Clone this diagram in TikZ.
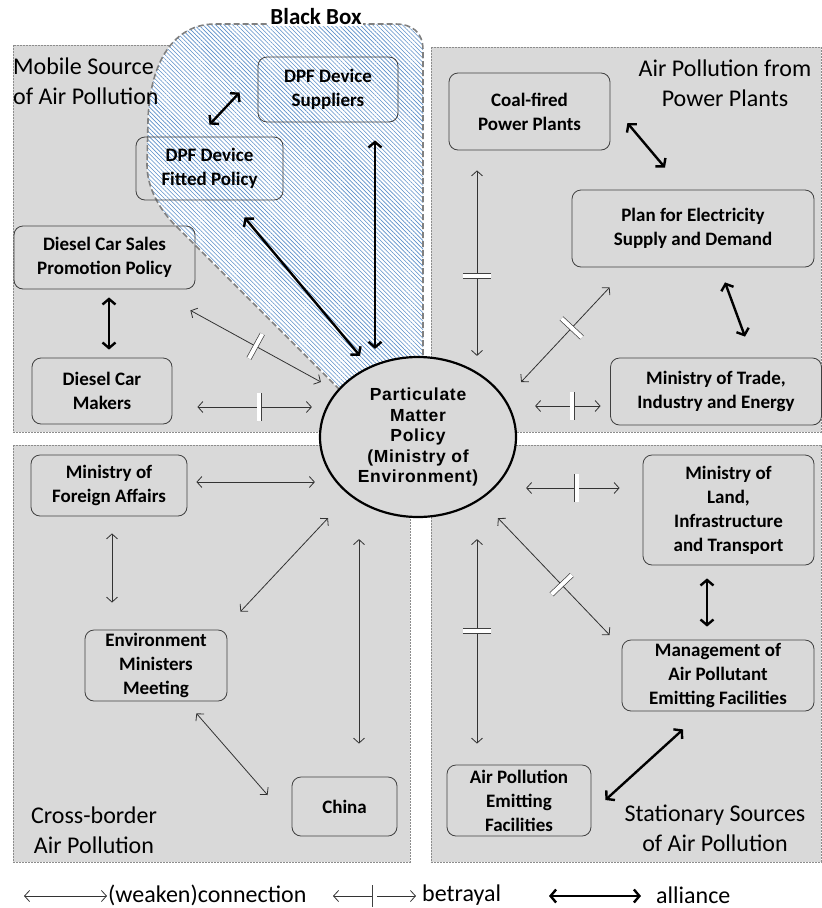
\documentclass[tikz,border=0pt]{standalone}
\usepackage{fontspec}
\setmainfont{Carlito}
\newfontfamily\arialfont[LetterSpace=4]{Liberation Sans}
\usetikzlibrary{arrows.meta,calc,shapes.geometric,patterns.meta,decorations.markings}
\definecolor{panelgray}{HTML}{D9D9D9}
\definecolor{hatchblue}{HTML}{5B8FC9}
\tikzset{
  panel/.style={fill=panelgray, draw=black!45, dash pattern=on 2pt off 1pt, line width=.6pt},
  actor/.style={draw=black!75, line width=.8pt, rounded corners=9pt, align=center, inner sep=2pt,
    font=\bfseries\fontsize{19}{24}\selectfont},
  region/.style={align=center, font=\fontsize{24}{30}\selectfont},
  legend/.style={inner sep=1pt, font=\fontsize{24}{28}\selectfont},
  conn/.style={black!80, line width=.8pt,
    {Straight Barb[length=5pt,width=11pt]}-{Straight Barb[length=5pt,width=11pt]}},
  ally/.style={black, line width=2.4pt,
    {Straight Barb[length=5.5pt,width=13pt]}-{Straight Barb[length=5.5pt,width=13pt]}},
  gaplen/.store in=\gaplen, gaplen=14pt,
  betray/.style={conn, postaction={decorate, decoration={markings,
    mark=at position #1 with {\draw[-, draw=black!75, line width=.7pt, double=white, double distance=4pt]
      (0pt,-\gaplen) -- (0pt,\gaplen);}}}},
  betray/.default=.5,
}
\begin{document}
\begin{tikzpicture}[x=1pt, y=-1pt]
  \useasboundingbox (0,0) rectangle (822,908);

  % four policy areas
  \fill[panel] (13,45) rectangle (421,432);
  \fill[panel] (431,47) rectangle (821,432);
  \fill[panel] (13,445) rectangle (410,862);
  \fill[panel] (431,445) rectangle (821,862);
  \draw[panel, fill=none] (13,45) rectangle (421,432);
  \draw[panel, fill=none] (431,47) rectangle (821,432);
  \draw[panel, fill=none] (13,445) rectangle (410,862);
  \draw[panel, fill=none] (431,445) rectangle (821,862);

  % black box
  \path[fill=white] (423,400) -- (423,50) .. controls (423,32) and (412,24) .. (395,24)
    -- (215,24) .. controls (175,24) and (150,60) .. (148,120) -- (147,165)
    .. controls (147,188) and (160,210) .. (175,225) -- (350,400) -- cycle;
  \draw[pattern={Lines[angle=-45, distance=3pt, line width=.6pt]}, pattern color=hatchblue,
    draw=black!50, line width=1.6pt, dash pattern=on 6pt off 3pt]
    (423,400) -- (423,50) .. controls (423,32) and (412,24) .. (395,24)
    -- (215,24) .. controls (175,24) and (150,60) .. (148,120) -- (147,165)
    .. controls (147,188) and (160,210) .. (175,225) -- (350,400) -- cycle;
  \node[font=\bfseries\fontsize{23}{26}\selectfont, fill=white, inner sep=1pt] (bblabel) at (316,17) {Black Box};

  % area titles
  \node[region, align=left, anchor=west, inner sep=0pt] (tmobile) at (13,81) {Mobile Source\\of Air Pollution};
  \node[region] (tpower) at (725,83) {Air Pollution from\\Power Plants};
  \node[region] (tcross) at (94,830) {Cross-border\\Air Pollution};
  \node[region] (tstat) at (715,828) {Stationary Sources\\of Air Pollution};

  % actors
  \node[actor, minimum width=140, minimum height=65] (dpfsup) at (328,89.5) {DPF Device\\Suppliers};
  \node[actor, minimum width=147, minimum height=63] (dpffit) at (209.5,168.5) {DPF Device\\Fitted Policy};
  \node[actor, minimum width=181, minimum height=63] (sales) at (104.5,257.5) {Diesel Car Sales\\Promotion Policy};
  \node[actor, minimum width=140, minimum height=66] (makers) at (102,391) {Diesel Car\\Makers};
  \node[actor, minimum width=161, minimum height=77] (coal) at (529.5,111.5) {Coal-fired\\Power Plants};
  \node[actor, minimum width=242, minimum height=77] (plan) at (693,228.5) {Plan for Electricity\\Supply and Demand};
  \node[actor, minimum width=211, minimum height=67] (trade) at (716,391.5) {Ministry of Trade,\\Industry and Energy};
  \node[actor, minimum width=156, minimum height=61] (fa) at (109,485.5) {Ministry of\\Foreign Affairs};
  \node[actor, minimum width=142, minimum height=71] (emm) at (156,665.5) {Environment\\Ministers\\Meeting};
  \node[actor, minimum width=105, minimum height=59] (china) at (344.5,806.5) {China};
  \node[actor, minimum width=171, minimum height=110] (land) at (728.5,510) {Ministry of\\Land,\\Infrastructure\\and Transport};
  \node[actor, minimum width=192, minimum height=71] (mgmt) at (718,675.5) {Management of\\Air Pollutant\\Emitting Facilities};
  \node[actor, minimum width=144, minimum height=71] (apef) at (519,800.5) {Air Pollution\\Emitting\\Facilities};

  % central policy
  \node[ellipse, draw=black, line width=2.2pt, fill=panelgray, minimum width=196, minimum height=160,
    inner sep=0pt, align=center, font=\arialfont\bfseries\fontsize{17.5}{20.5}\selectfont]
    (pm) at (418,437) {Particulate\\Matter\\Policy\\(Ministry of\\Environment)};

  % mobile sources
  \draw[ally] ($(dpfsup.west)+(-18,3)$) -- ($(dpffit.north)+(0,-12)$);
  \draw[ally] ($(dpffit.south)+(35,17)$) -- ($(pm.north)+(-58,0)$);
  \draw[ally] ($(dpfsup.south)+(47,18)$) -- ($(pm.north)+(-43,-7)$);
  \draw[ally] ($(sales.south)+(4.5,8)$) -- ($(makers.north)+(7,-8)$);
  \draw[betray] ($(sales.south east)+(-5,21)$) -- ($(pm.west)+(2,-55)$);
  \draw[betray=.54] ($(makers.east)+(25,16)$) -- ($(pm.west)+(-7,-30)$);

  % power plants
  \draw[betray=.57] ($(coal.south)+(-52.5,20)$) -- ($(pm.north)+(59,0)$);
  \draw[ally] ($(coal.east)+(17,11.5)$) -- ($(plan.north)+(-28,-22)$);
  \draw[betray=.43] ($(plan.south west)+(38,20)$) -- ($(pm.east)+(4,-55)$);
  \draw[ally] ($(plan.south)+(32,15)$) -- ($(trade.north)+(29,-21)$);
  \draw[betray=.57] ($(pm.east)+(18,-31)$) -- ($(trade.west)+(-9.5,14.5)$);

  % cross-border
  \draw[conn] ($(fa.east)+(9,-3.5)$) -- ($(pm.west)+(-4,45)$);
  \draw[conn] ($(fa.south)+(3,17)$) -- ($(emm.north)+(-44,-27)$);
  \draw[conn] ($(pm.south)+(-90,0)$) -- ($(emm.north east)+(13,-18)$);
  \draw[conn] ($(pm.south)+(-59,21)$) -- ($(china.north)+(14.5,-33)$);
  \draw[conn] ($(emm.south east)+(-31,12)$) -- ($(china.west)+(-24,-11.5)$);

  % stationary sources
  \draw[betray=.54] ($(pm.east)+(9,51)$) -- ($(land.west)+(-23,-22)$);
  \draw[betray=.57] ($(pm.south)+(80,0)$) -- ($(mgmt.west)+(-12,-40.5)$);
  \draw[betray=.45] ($(pm.south)+(59,21)$) -- ($(apef.north)+(-42,-21)$);
  \draw[ally] ($(land.south)+(-21.5,13)$) -- ($(mgmt.north)+(-11,-13)$);
  \draw[ally] ($(mgmt.south)+(-35,18)$) -- ($(apef.east)+(14,-0.5)$);

  % legend
  \node[legend, anchor=west] (lgconn) at (107,895) {(weaken)connection};
  \node[legend, anchor=west] (lgbet) at (421,895) {betrayal};
  \node[legend, anchor=west] (lgall) at (655,895) {alliance};
  \coordinate (lgc) at (24,896);
  \coordinate (lgb) at (333,896);
  \coordinate (lga) at (549,896);
  \draw[conn] (lgc) -- (lgconn.west |- lgc);
  \draw[betray, gaplen=11pt] (lgb) -- ($(lgbet.west |- lgb)+(-5,0)$);
  \draw[ally] (lga) -- ($(lgall.west |- lga)+(-14,0)$);
\end{tikzpicture}
\end{document}
